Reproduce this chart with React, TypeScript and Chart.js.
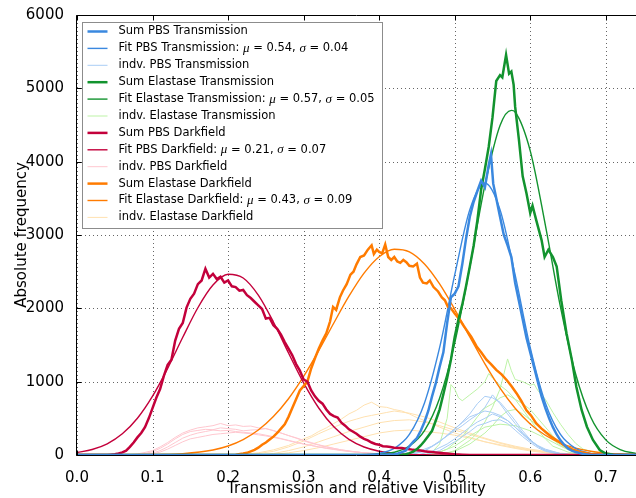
import React, { useEffect, useRef } from "react";
import { Chart, registerables } from "chart.js";
Chart.register(...registerables);

type P = [number, number];

const X_MIN = 0;
const X_MAX = 0.74;
const X_STEP = 0.1;
const Y_MIN = 0;
const Y_MAX = 6000;
const Y_STEP = 1000;
const X_TITLE = "Transmission and relative Visibility";
const Y_TITLE = "Absolute frequency";
const FONT = "'DejaVu Sans'";

// ---------- PBS Transmission ----------
const SUM_PBS_T: P[] = [
  [0, 0], [0.4, 0], [0.42, 10], [0.425, 20], [0.43, 40], [0.435, 60], [0.44, 120], [0.445, 180], [0.45, 230],
  [0.455, 330], [0.46, 450], [0.465, 600], [0.47, 800], [0.475, 980], [0.48, 1200], [0.485, 1400], [0.49, 1800],
  [0.495, 2150], [0.5, 2200], [0.505, 2300], [0.51, 2600], [0.515, 2950], [0.52, 3250], [0.525, 3450], [0.53, 3600],
  [0.535, 3740], [0.54, 3650], [0.545, 3950], [0.548, 4100], [0.551, 3700], [0.555, 3500], [0.56, 3250],
  [0.565, 3000], [0.57, 2860], [0.575, 2700], [0.58, 2350], [0.585, 2100], [0.59, 1850], [0.595, 1600],
  [0.6, 1400], [0.605, 1200], [0.61, 1000], [0.615, 800], [0.62, 640], [0.625, 500], [0.63, 380], [0.635, 280],
  [0.64, 200], [0.645, 140], [0.65, 90], [0.655, 60], [0.66, 40], [0.67, 15], [0.68, 0], [0.74, 0],
];
const FIT_PBS_T: P[] = [
  [0.38, 5], [0.4, 23], [0.42, 90], [0.44, 280], [0.46, 710], [0.48, 1464], [0.5, 2455], [0.52, 3346],
  [0.54, 3710], [0.56, 3346], [0.58, 2455], [0.6, 1464], [0.62, 710], [0.64, 280], [0.66, 90], [0.68, 23], [0.7, 5],
];
const IND_PBS_T_1: P[] = [
  [0.44, 0], [0.46, 50], [0.48, 180], [0.5, 350], [0.51, 450], [0.52, 560], [0.53, 700], [0.54, 800], [0.55, 780],
  [0.56, 720], [0.57, 600], [0.58, 470], [0.59, 330], [0.6, 210], [0.61, 120], [0.62, 60], [0.64, 10], [0.66, 0],
];
const IND_PBS_T_2: P[] = [
  [0.43, 0], [0.45, 40], [0.47, 120], [0.49, 260], [0.5, 330], [0.51, 400], [0.52, 480], [0.53, 550], [0.54, 650],
  [0.55, 820], [0.56, 700], [0.57, 560], [0.58, 430], [0.59, 300], [0.6, 200], [0.61, 120], [0.62, 70], [0.64, 20], [0.66, 0],
];
const IND_PBS_T_3: P[] = [
  [0.44, 0], [0.46, 60], [0.48, 180], [0.49, 270], [0.5, 360], [0.51, 440], [0.52, 520], [0.53, 560], [0.54, 600],
  [0.55, 580], [0.56, 540], [0.57, 470], [0.58, 380], [0.59, 280], [0.6, 190], [0.61, 120], [0.62, 60], [0.64, 15], [0.66, 0],
];
const IND_PBS_T_4: P[] = [
  [0.45, 0], [0.47, 50], [0.49, 150], [0.5, 220], [0.51, 300], [0.52, 380], [0.53, 450], [0.54, 500], [0.55, 560],
  [0.56, 520], [0.57, 470], [0.58, 380], [0.59, 290], [0.6, 200], [0.61, 130], [0.62, 80], [0.64, 20], [0.66, 0],
];
const IND_PBS_T_5: P[] = [
  [0.46, 0], [0.48, 60], [0.5, 180], [0.52, 320], [0.53, 400], [0.54, 430], [0.55, 470], [0.56, 480], [0.57, 430],
  [0.58, 340], [0.59, 250], [0.6, 170], [0.61, 100], [0.62, 50], [0.64, 10], [0.66, 0],
];

// ---------- Elastase Transmission ----------
const SUM_ELA_T: P[] = [
  [0, 0], [0.42, 0], [0.43, 5], [0.435, 10], [0.44, 25], [0.445, 45], [0.45, 80], [0.455, 130], [0.46, 190],
  [0.465, 260], [0.47, 330], [0.475, 470], [0.48, 620], [0.485, 830], [0.49, 1050], [0.495, 1300], [0.5, 1610],
  [0.505, 1850], [0.51, 2050], [0.515, 2300], [0.52, 2570], [0.525, 2850], [0.53, 3200], [0.535, 3620],
  [0.54, 3900], [0.545, 4200], [0.55, 4600], [0.555, 5100], [0.56, 5180], [0.563, 5150], [0.568, 5455],
  [0.572, 5200], [0.575, 5230], [0.578, 5050], [0.58, 4750], [0.585, 4300], [0.59, 3800], [0.595, 3570],
  [0.6, 3300], [0.603, 3400], [0.608, 3200], [0.615, 2930], [0.619, 2700], [0.624, 2800], [0.63, 2700],
  [0.635, 2570], [0.641, 2110], [0.648, 1660], [0.655, 1300], [0.661, 930], [0.668, 614], [0.675, 386],
  [0.683, 205], [0.692, 68], [0.7, 20], [0.71, 5], [0.72, 0], [0.74, 0],
];
const FIT_ELA_T: P[] = [
  [0.4, 10], [0.42, 38], [0.44, 123], [0.46, 334], [0.48, 773], [0.5, 1526], [0.52, 2566], [0.54, 3679],
  [0.56, 4494], [0.575, 4700], [0.58, 4677], [0.6, 4148], [0.62, 3135], [0.64, 2019], [0.66, 1108],
  [0.68, 518], [0.7, 206], [0.72, 70], [0.74, 20],
];
const IND_ELA_T_1: P[] = [
  [0.46, 0], [0.47, 40], [0.48, 150], [0.49, 500], [0.495, 960], [0.5, 900], [0.505, 780], [0.51, 740], [0.52, 820],
  [0.53, 900], [0.54, 1000], [0.545, 1110], [0.55, 1050], [0.56, 950], [0.57, 870], [0.58, 760], [0.59, 620],
  [0.6, 480], [0.61, 340], [0.62, 220], [0.63, 120], [0.65, 40], [0.67, 0],
];
const IND_ELA_T_2: P[] = [
  [0.48, 0], [0.5, 60], [0.52, 200], [0.53, 300], [0.54, 450], [0.55, 650], [0.56, 900], [0.565, 1100], [0.57, 1310],
  [0.575, 1150], [0.58, 1030], [0.59, 1000], [0.6, 950], [0.605, 970], [0.61, 880], [0.62, 760], [0.63, 580],
  [0.64, 420], [0.65, 280], [0.66, 160], [0.67, 80], [0.69, 20], [0.7, 0],
];
const IND_ELA_T_3: P[] = [
  [0.47, 0], [0.49, 80], [0.51, 250], [0.52, 380], [0.53, 520], [0.54, 640], [0.55, 700], [0.56, 780], [0.57, 820],
  [0.58, 760], [0.59, 700], [0.6, 620], [0.61, 500], [0.62, 380], [0.63, 260], [0.64, 160], [0.65, 90], [0.67, 20], [0.69, 0],
];
const IND_ELA_T_4: P[] = [
  [0.48, 0], [0.5, 50], [0.52, 150], [0.54, 300], [0.55, 400], [0.56, 520], [0.57, 600], [0.58, 620], [0.59, 560],
  [0.6, 480], [0.61, 400], [0.62, 300], [0.63, 210], [0.64, 130], [0.65, 70], [0.67, 20], [0.69, 0],
];
const IND_ELA_T_5: P[] = [
  [0.46, 0], [0.48, 40], [0.5, 120], [0.52, 260], [0.54, 380], [0.56, 420], [0.58, 400], [0.6, 330], [0.62, 230],
  [0.64, 120], [0.66, 40], [0.68, 0],
];

// ---------- PBS Darkfield ----------
const SUM_PBS_D: P[] = [
  [0, 0], [0.04, 0], [0.045, 5], [0.05, 10], [0.055, 20], [0.06, 35], [0.065, 60], [0.07, 110], [0.075, 170],
  [0.08, 240], [0.085, 300], [0.09, 380], [0.095, 500], [0.1, 640], [0.105, 780], [0.11, 900], [0.115, 1080],
  [0.12, 1230], [0.125, 1300], [0.13, 1560], [0.135, 1720], [0.14, 1800], [0.145, 2010], [0.15, 2130],
  [0.155, 2200], [0.16, 2330], [0.165, 2380], [0.17, 2540], [0.175, 2420], [0.18, 2470], [0.185, 2400],
  [0.19, 2430], [0.195, 2350], [0.2, 2380], [0.205, 2300], [0.21, 2290], [0.215, 2240], [0.22, 2250],
  [0.225, 2180], [0.23, 2140], [0.235, 2090], [0.24, 2040], [0.245, 1990], [0.25, 1860], [0.255, 1870],
  [0.26, 1770], [0.265, 1720], [0.27, 1640], [0.275, 1540], [0.28, 1450], [0.285, 1360], [0.29, 1240],
  [0.295, 1150], [0.3, 1030], [0.305, 1000], [0.31, 880], [0.315, 800], [0.32, 740], [0.325, 700], [0.33, 620],
  [0.335, 560], [0.34, 530], [0.345, 510], [0.35, 440], [0.355, 400], [0.36, 350], [0.365, 320], [0.37, 290],
  [0.375, 250], [0.38, 220], [0.385, 200], [0.39, 170], [0.395, 150], [0.4, 140], [0.405, 120], [0.41, 115],
  [0.415, 110], [0.42, 100], [0.425, 95], [0.43, 95], [0.435, 85], [0.44, 80], [0.445, 70], [0.45, 65],
  [0.455, 60], [0.46, 50], [0.465, 45], [0.47, 40], [0.475, 35], [0.48, 30], [0.485, 25], [0.49, 20],
  [0.495, 15], [0.5, 10], [0.51, 5], [0.52, 0], [0.74, 0],
];
const FIT_PBS_D: P[] = [
  [0, 34], [0.02, 75], [0.04, 153], [0.06, 289], [0.08, 501], [0.1, 802], [0.12, 1182], [0.14, 1605], [0.16, 2008],
  [0.18, 2317], [0.2, 2464], [0.22, 2414], [0.24, 2180], [0.26, 1814], [0.28, 1391], [0.3, 983], [0.32, 641],
  [0.34, 385], [0.36, 213], [0.38, 109], [0.4, 51], [0.42, 22], [0.44, 9], [0.46, 3], [0.48, 0], [0.5, 0],
];
const IND_PBS_D_1: P[] = [
  [0.06, 0], [0.07, 5], [0.08, 15], [0.09, 35], [0.1, 60], [0.11, 110], [0.12, 170], [0.13, 240], [0.14, 300],
  [0.15, 340], [0.16, 370], [0.17, 385], [0.18, 400], [0.19, 430], [0.2, 400], [0.21, 410], [0.22, 390],
  [0.23, 395], [0.24, 370], [0.25, 360], [0.26, 330], [0.27, 300], [0.28, 265], [0.29, 235], [0.3, 200],
  [0.31, 170], [0.32, 140], [0.33, 115], [0.34, 90], [0.35, 70], [0.36, 55], [0.37, 42], [0.38, 30], [0.39, 22],
  [0.4, 15], [0.42, 8], [0.45, 3], [0.48, 0],
];
const IND_PBS_D_2: P[] = [
  [0.07, 0], [0.08, 8], [0.09, 20], [0.1, 45], [0.11, 90], [0.12, 150], [0.13, 220], [0.14, 280], [0.15, 320],
  [0.16, 335], [0.17, 350], [0.18, 345], [0.19, 370], [0.2, 360], [0.21, 350], [0.22, 330], [0.23, 340],
  [0.24, 345], [0.25, 360], [0.26, 335], [0.27, 300], [0.28, 265], [0.29, 230], [0.3, 195], [0.31, 160],
  [0.32, 135], [0.33, 110], [0.34, 90], [0.35, 70], [0.36, 55], [0.37, 40], [0.38, 30], [0.39, 20], [0.41, 10],
  [0.44, 3], [0.47, 0],
];
const IND_PBS_D_3: P[] = [
  [0.08, 0], [0.09, 10], [0.1, 25], [0.11, 60], [0.12, 110], [0.13, 170], [0.14, 230], [0.15, 270], [0.16, 300],
  [0.17, 320], [0.18, 340], [0.19, 330], [0.2, 335], [0.21, 320], [0.22, 310], [0.23, 300], [0.24, 290],
  [0.25, 270], [0.26, 250], [0.27, 225], [0.28, 200], [0.29, 175], [0.3, 150], [0.31, 130], [0.32, 110],
  [0.33, 95], [0.34, 80], [0.35, 65], [0.36, 50], [0.37, 40], [0.38, 30], [0.4, 15], [0.43, 5], [0.46, 0],
];
const IND_PBS_D_4: P[] = [
  [0.09, 0], [0.1, 15], [0.11, 40], [0.12, 80], [0.13, 130], [0.14, 180], [0.15, 220], [0.16, 240], [0.17, 260],
  [0.18, 280], [0.19, 290], [0.2, 300], [0.21, 310], [0.22, 300], [0.23, 290], [0.24, 275], [0.25, 260],
  [0.26, 240], [0.27, 220], [0.28, 195], [0.29, 170], [0.3, 150], [0.31, 130], [0.32, 110], [0.33, 90],
  [0.34, 75], [0.35, 60], [0.36, 48], [0.38, 30], [0.4, 18], [0.42, 10], [0.46, 0],
];

// ---------- Elastase Darkfield ----------
const SUM_ELA_D: P[] = [
  [0, 0], [0.2, 0], [0.21, 5], [0.22, 20], [0.225, 30], [0.23, 50], [0.235, 70], [0.24, 100], [0.245, 140],
  [0.25, 170], [0.255, 210], [0.26, 250], [0.265, 300], [0.27, 360], [0.275, 420], [0.28, 520], [0.285, 640],
  [0.29, 760], [0.295, 880], [0.3, 940], [0.305, 1000], [0.31, 1180], [0.315, 1320], [0.32, 1450], [0.325, 1560],
  [0.33, 1660], [0.335, 1820], [0.339, 2020], [0.343, 1980], [0.348, 2150], [0.352, 2240], [0.357, 2330],
  [0.362, 2460], [0.366, 2500], [0.37, 2600], [0.375, 2700], [0.38, 2720], [0.385, 2800], [0.39, 2860],
  [0.393, 2740], [0.397, 2800], [0.4, 2770], [0.404, 2750], [0.408, 2870], [0.412, 2700], [0.416, 2660],
  [0.42, 2700], [0.424, 2640], [0.428, 2620], [0.432, 2660], [0.436, 2630], [0.44, 2580], [0.445, 2570],
  [0.45, 2610], [0.454, 2420], [0.458, 2350], [0.463, 2340], [0.467, 2380], [0.472, 2290], [0.478, 2230],
  [0.483, 2150], [0.487, 2110], [0.491, 2020], [0.495, 2000], [0.5, 1930], [0.507, 1840], [0.512, 1760],
  [0.516, 1700], [0.522, 1610], [0.529, 1480], [0.535, 1400], [0.542, 1300], [0.548, 1240], [0.555, 1160],
  [0.562, 1100], [0.569, 1020], [0.575, 940], [0.582, 840], [0.588, 740], [0.595, 610], [0.601, 540],
  [0.608, 430], [0.615, 360], [0.622, 300], [0.628, 250], [0.635, 200], [0.642, 150], [0.648, 110],
  [0.655, 80], [0.665, 45], [0.68, 15], [0.7, 0], [0.74, 0],
];
const FIT_ELA_D: P[] = [
  [0.1, 4], [0.14, 19], [0.18, 69], [0.2, 123], [0.22, 210], [0.24, 340], [0.26, 524], [0.28, 767], [0.3, 1071],
  [0.32, 1423], [0.34, 1800], [0.36, 2165], [0.38, 2480], [0.4, 2704], [0.42, 2806], [0.44, 2771], [0.46, 2605],
  [0.48, 2332], [0.5, 1986], [0.52, 1610], [0.54, 1243], [0.56, 912], [0.58, 638], [0.6, 424], [0.62, 269],
  [0.64, 162], [0.66, 93], [0.68, 51], [0.7, 26], [0.72, 13], [0.74, 6],
];
const IND_ELA_D_1: P[] = [
  [0.2, 0], [0.22, 10], [0.24, 30], [0.26, 70], [0.28, 130], [0.3, 220], [0.31, 260], [0.32, 320], [0.33, 370],
  [0.34, 430], [0.35, 490], [0.36, 560], [0.37, 610], [0.38, 680], [0.39, 720], [0.4, 660], [0.41, 650],
  [0.42, 620], [0.43, 600], [0.44, 560], [0.45, 510], [0.46, 470], [0.48, 380], [0.5, 300], [0.52, 240],
  [0.54, 180], [0.56, 130], [0.58, 90], [0.6, 55], [0.62, 30], [0.64, 15], [0.66, 5], [0.7, 0],
];
const IND_ELA_D_2: P[] = [
  [0.22, 0], [0.24, 20], [0.26, 50], [0.28, 110], [0.3, 190], [0.32, 290], [0.34, 380], [0.35, 420], [0.36, 460],
  [0.37, 490], [0.38, 520], [0.39, 540], [0.4, 560], [0.41, 580], [0.42, 600], [0.43, 585], [0.44, 570],
  [0.46, 520], [0.48, 450], [0.5, 370], [0.52, 300], [0.54, 230], [0.56, 170], [0.58, 120], [0.6, 80],
  [0.62, 50], [0.64, 25], [0.66, 10], [0.7, 0],
];
const IND_ELA_D_3: P[] = [
  [0.24, 0], [0.26, 20], [0.28, 60], [0.3, 110], [0.32, 180], [0.34, 250], [0.36, 320], [0.38, 380], [0.4, 440],
  [0.42, 470], [0.44, 480], [0.46, 450], [0.48, 400], [0.5, 340], [0.52, 280], [0.54, 220], [0.56, 160],
  [0.58, 110], [0.6, 70], [0.62, 40], [0.64, 20], [0.68, 0],
];
const IND_ELA_D_4: P[] = [
  [0.24, 0], [0.26, 10], [0.28, 30], [0.3, 60], [0.32, 100], [0.34, 150], [0.36, 200], [0.38, 250], [0.4, 300],
  [0.42, 330], [0.44, 340], [0.46, 320], [0.48, 300], [0.5, 270], [0.52, 230], [0.54, 180], [0.56, 140],
  [0.58, 100], [0.6, 65], [0.62, 40], [0.64, 20], [0.68, 0],
];

// ---------- legend / colours ----------
const LEGEND_LABELS = [
  "Sum PBS Transmission",
  "Fit PBS Transmission: μ = 0.54, σ = 0.04",
  "indv. PBS Transmission",
  "Sum Elastase Transmission",
  "Fit Elastase Transmission: μ = 0.57, σ = 0.05",
  "indv. Elastase Transmission",
  "Sum PBS Darkfield",
  "Fit PBS Darkfield: μ = 0.21, σ = 0.07",
  "indv. PBS Darkfield",
  "Sum Elastase Darkfield",
  "Fit Elastase Darkfield: μ = 0.43, σ = 0.09",
  "indv. Elastase Darkfield",
];
const BLUE = "#3a88df";
const GREEN = "#12932e";
const CRIMSON = "#c3003b";
const ORANGE = "#ff7b00";
const LIGHT_BLUE = "#a9cdf5";
const LIGHT_GREEN = "#bdf3a6";
const PINK = "#ffc7cf";
const LIGHT_ORANGE = "#ffe1b0";

const SUM_W = 2.5;
const FIT_W = 1.4;
const IND_W = 1;

type Kind = "sum" | "fit" | "ind";
const GROUPS: { sum: P[]; fit: P[]; ind: P[][]; color: string; light: string }[] = [
  { sum: SUM_PBS_T, fit: FIT_PBS_T, ind: [IND_PBS_T_1, IND_PBS_T_2, IND_PBS_T_3, IND_PBS_T_4, IND_PBS_T_5], color: BLUE, light: LIGHT_BLUE },
  { sum: SUM_ELA_T, fit: FIT_ELA_T, ind: [IND_ELA_T_1, IND_ELA_T_2, IND_ELA_T_3, IND_ELA_T_4, IND_ELA_T_5], color: GREEN, light: LIGHT_GREEN },
  { sum: SUM_PBS_D, fit: FIT_PBS_D, ind: [IND_PBS_D_1, IND_PBS_D_2, IND_PBS_D_3, IND_PBS_D_4], color: CRIMSON, light: PINK },
  { sum: SUM_ELA_D, fit: FIT_ELA_D, ind: [IND_ELA_D_1, IND_ELA_D_2, IND_ELA_D_3, IND_ELA_D_4], color: ORANGE, light: LIGHT_ORANGE },
];

const toXY = (pts: P[]) => pts.map(([x, y]) => ({ x, y }));

function buildDatasets() {
  const ds: any[] = [];
  GROUPS.forEach((g, gi) => {
    const mk = (data: P[], kind: Kind, label: string) => ({
      label,
      data: toXY(data),
      borderColor: kind === "ind" ? g.light : g.color,
      borderWidth: kind === "sum" ? SUM_W : kind === "fit" ? FIT_W : IND_W,
      pointRadius: 0,
      fill: false,
      tension: 0,
      cubicInterpolationMode: kind === "fit" ? "monotone" : "default",
      order: kind === "sum" ? 1 : kind === "fit" ? 2 : 3,
    });
    ds.push(mk(g.sum, "sum", LEGEND_LABELS[gi * 3]));
    ds.push(mk(g.fit, "fit", LEGEND_LABELS[gi * 3 + 1]));
    g.ind.forEach((d) => ds.push(mk(d, "ind", LEGEND_LABELS[gi * 3 + 2])));
  });
  return ds;
}

const LEGEND_ITEMS = GROUPS.flatMap((g) => [
  { color: g.color, width: SUM_W },
  { color: g.color, width: FIT_W },
  { color: g.light, width: IND_W },
]);

function drawMixed(ctx: CanvasRenderingContext2D, text: string, x: number, y: number) {
  const parts = text.split(/([μσ])/);
  let cx = x;
  for (const p of parts) {
    if (!p) continue;
    if (p === "μ" || p === "σ") ctx.font = "italic 13px 'Liberation Serif'";
    else ctx.font = `11.5px ${FONT}`;
    ctx.fillText(p, cx, y);
    cx += ctx.measureText(p).width;
  }
}

const framePlugin = {
  id: "mplFrame",
  beforeDatasetsDraw(chart: any) {
    const { ctx, chartArea: a, scales } = chart;
    const xs = scales.x;
    const ys = scales.y;
    ctx.save();
    ctx.strokeStyle = "rgba(0,0,0,0.6)";
    ctx.lineWidth = 1;
    ctx.setLineDash([1, 3]);
    xs.ticks.forEach((t: any) => {
      const px = Math.round(xs.getPixelForValue(t.value)) + 0.5;
      ctx.beginPath();
      ctx.moveTo(px, a.top);
      ctx.lineTo(px, a.bottom);
      ctx.stroke();
    });
    ys.ticks.forEach((t: any) => {
      const py = Math.round(ys.getPixelForValue(t.value)) + 0.5;
      ctx.beginPath();
      ctx.moveTo(a.left, py);
      ctx.lineTo(a.right, py);
      ctx.stroke();
    });
    ctx.restore();
  },
  afterDatasetsDraw(chart: any) {
    const { ctx, chartArea: a, scales } = chart;
    const xs = scales.x;
    const ys = scales.y;
    ctx.save();
    ctx.strokeStyle = "#000";
    ctx.lineWidth = 1;
    const L = Math.round(a.left) - 0.5;
    const R = Math.round(a.right) + 0.5;
    const T = Math.round(a.top) + 0.5;
    const B = Math.round(a.bottom) + 0.5;
    ctx.beginPath();
    ctx.moveTo(L, B);
    ctx.lineTo(L, T);
    ctx.lineTo(R, T);
    ctx.moveTo(L, B);
    ctx.lineTo(R, B);
    ctx.stroke();
    const TL = 5;
    xs.ticks.forEach((t: any) => {
      const px = Math.round(xs.getPixelForValue(t.value)) + 0.5;
      ctx.beginPath();
      ctx.moveTo(px, B);
      ctx.lineTo(px, B - TL);
      ctx.moveTo(px, T);
      ctx.lineTo(px, T + TL);
      ctx.stroke();
    });
    ys.ticks.forEach((t: any) => {
      const py = Math.round(ys.getPixelForValue(t.value)) + 0.5;
      ctx.beginPath();
      ctx.moveTo(L, py);
      ctx.lineTo(L + TL, py);
      ctx.stroke();
    });

    // legend
    const bx = Math.round(a.left) + 5.5;
    const by = Math.round(a.top) + 7.5;
    const bw = 300;
    const bh = 206;
    ctx.fillStyle = "#fff";
    ctx.fillRect(bx, by, bw, bh);
    ctx.strokeStyle = "#8c8c8c";
    ctx.lineWidth = 1;
    ctx.strokeRect(bx, by, bw, bh);
    const rowH = 16.9;
    ctx.textBaseline = "middle";
    LEGEND_LABELS.forEach((label, i) => {
      const cy = by + 9 + i * rowH;
      const it = LEGEND_ITEMS[i];
      ctx.strokeStyle = it.color;
      ctx.lineWidth = it.width;
      ctx.beginPath();
      ctx.moveTo(bx + 5, cy);
      ctx.lineTo(bx + 25, cy);
      ctx.stroke();
      ctx.fillStyle = "#000";
      drawMixed(ctx, label, bx + 36, cy);
    });
    ctx.restore();
  },
};

export default function App() {
  const ref = useRef<HTMLCanvasElement>(null);
  useEffect(() => {
    if (!ref.current) return;
    const chart = new Chart(ref.current, {
      type: "line",
      data: { datasets: buildDatasets() },
      plugins: [framePlugin],
      options: {
        animation: false,
        responsive: false,
        devicePixelRatio: 1,
        layout: { padding: { top: 15, right: 0, bottom: 0, left: 0 } },
        plugins: { legend: { display: false }, tooltip: { enabled: false } },
        scales: {
          x: {
            type: "linear",
            min: X_MIN,
            max: X_MAX,
            grid: { display: false },
            border: { display: false },
            ticks: {
              stepSize: X_STEP,
              includeBounds: false,
              autoSkip: false,
              maxRotation: 0,
              padding: 6,
              color: "#000",
              font: { family: FONT, size: 15 },
              callback: (v: any) => Number(v).toFixed(1),
            },
            title: {
              display: true,
              text: X_TITLE,
              color: "#000",
              font: { family: FONT, size: 15 },
              padding: { top: 0, bottom: 0 },
            },
            afterFit: (s: any) => {
              s.height = 43;
            },
          },
          y: {
            type: "linear",
            min: Y_MIN,
            max: Y_MAX,
            grid: { display: false },
            border: { display: false },
            ticks: {
              stepSize: Y_STEP,
              padding: 5,
              color: "#000",
              font: { family: FONT, size: 15 },
              callback: (v: any) => String(v),
            },
            title: {
              display: true,
              text: Y_TITLE,
              color: "#000",
              font: { family: FONT, size: 15 },
              padding: { top: 13, bottom: 0 },
            },
            afterFit: (s: any) => {
              s.width = 77;
            },
          },
        },
      } as any,
    });
    return () => chart.destroy();
  }, []);
  return (
    <div style={{ position: "fixed", left: 0, top: 0, width: 636, height: 498, background: "#fff" }}>
      <canvas ref={ref} width={636} height={498} style={{ display: "block" }} />
    </div>
  );
}
